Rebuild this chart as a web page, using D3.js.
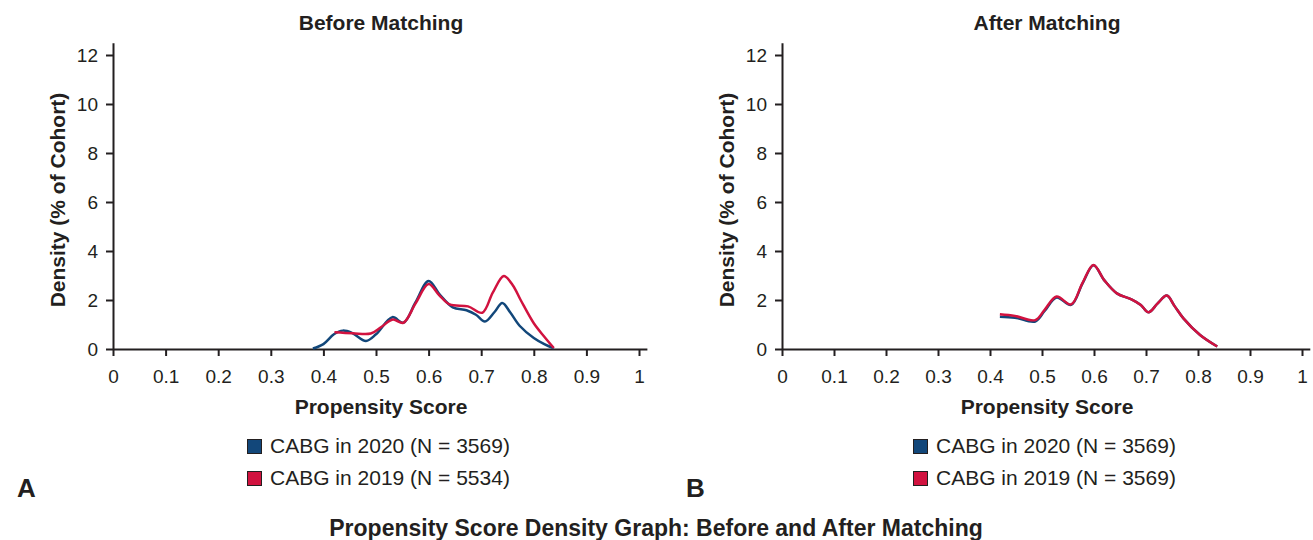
<!DOCTYPE html>
<html>
<head>
<meta charset="utf-8">
<script src="https://cdn.jsdelivr.net/npm/d3@7"></script>
<style>
  body { margin: 0; background: #fff; }
  svg { display: block; font-family: "Liberation Sans", Arial, sans-serif; }
  .axis text { font-size: 19px; fill: #231f20; }
  .axis path, .axis line { stroke: #231f20; stroke-width: 2; }
</style>
</head>
<body>
<div id="chart"></div>
<script>
// data
const xTicks = [0, 0.1, 0.2, 0.3, 0.4, 0.5, 0.6, 0.7, 0.8, 0.9, 1];
const yTicks = [0, 2, 4, 6, 8, 10, 12];

const beforeBlueX = [0.38, 0.40, 0.42, 0.437, 0.455, 0.481, 0.50, 0.531, 0.552, 0.575, 0.600, 0.622, 0.646, 0.672, 0.69, 0.707, 0.725, 0.740, 0.755, 0.773, 0.80, 0.82, 0.838];
const beforeBlueY = [0.02, 0.2, 0.6, 0.75, 0.65, 0.33, 0.6, 1.3, 1.07, 1.9, 2.78, 2.2, 1.7, 1.58, 1.4, 1.12, 1.5, 1.88, 1.5, 0.95, 0.45, 0.2, 0.03];
const beforeRedX = [0.421, 0.456, 0.49, 0.51, 0.532, 0.552, 0.575, 0.600, 0.62, 0.64, 0.675, 0.702, 0.722, 0.743, 0.76, 0.775, 0.80, 0.82, 0.838];
const beforeRedY = [0.68, 0.64, 0.63, 0.9, 1.2, 1.07, 1.85, 2.65, 2.2, 1.82, 1.74, 1.48, 2.3, 2.98, 2.6, 2.0, 1.05, 0.5, 0.04];

const afterBlueX = [0.419, 0.448, 0.487, 0.505, 0.528, 0.556, 0.578, 0.599, 0.62, 0.644, 0.672, 0.69, 0.705, 0.722, 0.740, 0.755, 0.772, 0.804, 0.837];
const afterBlueY = [1.32, 1.28, 1.12, 1.55, 2.1, 1.8, 2.68, 3.42, 2.8, 2.27, 2.03, 1.8, 1.5, 1.85, 2.18, 1.75, 1.25, 0.57, 0.1];
const afterRedX = [0.419, 0.448, 0.487, 0.505, 0.528, 0.556, 0.578, 0.599, 0.62, 0.644, 0.672, 0.69, 0.705, 0.722, 0.740, 0.755, 0.772, 0.804, 0.837];
const afterRedY = [1.42, 1.35, 1.18, 1.6, 2.14, 1.82, 2.7, 3.43, 2.8, 2.27, 2.03, 1.8, 1.5, 1.85, 2.18, 1.75, 1.25, 0.57, 0.1];

const blue = '#12477a';
const red = '#d1123f';

const svg = d3.select('#chart')
    .append('svg')
    .attr('width', 1313)
    .attr('height', 540);

function zip(xs, ys) {
    return xs.map((x, i) => ({x: x, y: ys[i]}));
}

function panel(opts) {
    const x = d3.scaleLinear().domain([0, 1.015]).range([opts.left, opts.left + opts.width * 1.015]);
    const y = d3.scaleLinear().domain([0, 12.5]).range([349, 349 - 12.5 * 24.5]);

    // title
    svg.append('text')
        .attr('x', opts.titleX)
        .attr('y', 30)
        .attr('text-anchor', 'middle')
        .attr('font-weight', 'bold')
        .attr('font-size', 21)
        .attr('fill', '#231f20')
        .text(opts.title);

    // axes
    const xAxis = d3.axisBottom(x)
        .tickValues(xTicks)
        .tickFormat(d => d3.format('')(d))
        .tickSizeInner(7)
        .tickSizeOuter(0)
        .tickPadding(13.5);
    const yAxis = d3.axisLeft(y)
        .tickValues(yTicks)
        .tickSizeInner(7)
        .tickSizeOuter(0)
        .tickPadding(8);

    svg.append('g')
        .attr('class', 'axis')
        .attr('transform', 'translate(0, 349)')
        .call(xAxis);
    svg.append('g')
        .attr('class', 'axis')
        .attr('transform', `translate(${opts.left}, 0)`)
        .call(yAxis);

    // axis titles
    svg.append('text')
        .attr('transform', `translate(${opts.left - 48}, 200) rotate(-90)`)
        .attr('text-anchor', 'middle')
        .attr('font-weight', 'bold')
        .attr('font-size', 21)
        .attr('fill', '#231f20')
        .text('Density (% of Cohort)');
    svg.append('text')
        .attr('x', opts.titleX)
        .attr('y', 414)
        .attr('text-anchor', 'middle')
        .attr('font-weight', 'bold')
        .attr('font-size', 21)
        .attr('fill', '#231f20')
        .text('Propensity Score');

    // density lines
    const line = d3.line()
        .x(d => x(d.x))
        .y(d => y(d.y))
        .curve(d3.curveCatmullRom.alpha(0.5));

    svg.append('path')
        .datum(opts.blue)
        .attr('fill', 'none')
        .attr('stroke', blue)
        .attr('stroke-width', 2.5)
        .attr('d', line);
    svg.append('path')
        .datum(opts.red)
        .attr('fill', 'none')
        .attr('stroke', red)
        .attr('stroke-width', 2.5)
        .attr('d', line);

    // legend
    const legend = svg.append('g')
        .attr('transform', `translate(${opts.legendX}, 439)`);
    opts.labels.forEach((lab, i) => {
        legend.append('rect')
            .attr('x', 0.5)
            .attr('y', i * 32 + 0.5)
            .attr('width', 14)
            .attr('height', 14)
            .attr('fill', i === 0 ? blue : red)
            .attr('stroke', '#231f20')
            .attr('stroke-width', 1);
        legend.append('text')
            .attr('x', 23)
            .attr('y', i * 32 + 13.5)
            .attr('font-size', 21)
            .attr('fill', '#231f20')
            .text(lab);
    });

    // panel letter
    svg.append('text')
        .attr('x', opts.letterX)
        .attr('y', 497)
        .attr('font-weight', 'bold')
        .attr('font-size', 26)
        .attr('fill', '#231f20')
        .text(opts.letter);
}

panel({
    left: 113, width: 526, titleX: 381,
    title: 'Before Matching',
    blue: zip(beforeBlueX, beforeBlueY),
    red: zip(beforeRedX, beforeRedY),
    labels: ['CABG in 2020 (N = 3569)', 'CABG in 2019 (N = 5534)'],
    legendX: 247, letter: 'A', letterX: 17
});

panel({
    left: 782, width: 520, titleX: 1047,
    title: 'After Matching',
    blue: zip(afterBlueX, afterBlueY),
    red: zip(afterRedX, afterRedY),
    labels: ['CABG in 2020 (N = 3569)', 'CABG in 2019 (N = 3569)'],
    legendX: 913, letter: 'B', letterX: 686
});

svg.append('text')
    .attr('x', 656)
    .attr('y', 536)
    .attr('text-anchor', 'middle')
    .attr('font-weight', 'bold')
    .attr('font-size', 23)
    .attr('fill', '#231f20')
    .text('Propensity Score Density Graph: Before and After Matching');
</script>
</body>
</html>
